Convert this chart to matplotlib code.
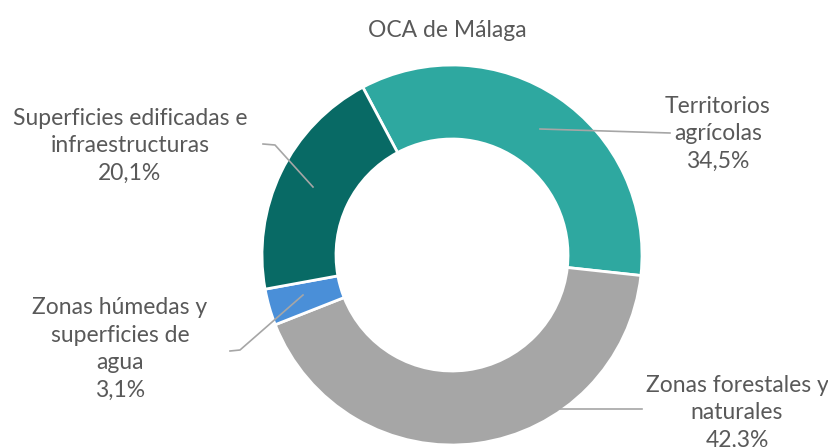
import matplotlib.pyplot as plt

# datos
categorias = ['Territorios\nagrícolas', 'Zonas forestales y\nnaturales',
              'Zonas húmedas y\nsuperficies de\nagua', 'Superficies edificadas e\ninfraestructuras']
porcentajes = [34.5, 42.3, 3.1, 20.1]
colores = ['#2EA8A0', '#A6A6A6', '#4A8FD8', '#086A65']

# posiciones de etiquetas y líneas guía (px, eje y hacia arriba)
pos_etiquetas = [(718, 313), (737, 34), (120, 98), (130, 301)]
lineas_guia = [
    [(540, 318), (670, 314)],
    [(560, 38), (642, 38)],
    [(303, 152), (240, 97), (230, 96)],
    [(313, 260), (275, 302), (263, 303)],
]

W, H = 829, 447
fig = plt.figure(figsize=(W / 100, H / 100), dpi=100)
ax = fig.add_axes([0, 0, 1, 1])

ax.pie(porcentajes, colors=colores, startangle=118, counterclock=False,
       center=(452, 192), radius=190,
       wedgeprops=dict(width=74, edgecolor='white', linewidth=2))
ax.set_xlim(0, W)
ax.set_ylim(0, H)
ax.set_aspect('equal')
ax.axis('off')

txt_color = '#595959'
for linea in lineas_guia:
    xs, ys = zip(*linea)
    ax.plot(xs, ys, color='#A6A6A6', linewidth=1.2)

for cat, val, (x, y) in zip(categorias, porcentajes, pos_etiquetas):
    etiqueta = f"{cat}\n{val:.1f}%".replace('.', ',')
    ax.text(x, y, etiqueta, ha='center', va='center', multialignment='center',
            fontsize=16.5, color=txt_color, family='Lato', linespacing=1.38)

ax.text(447, H - 30, 'OCA de Málaga', ha='center', va='center',
        fontsize=16.5, color=txt_color, family='Lato')

plt.savefig('out.png', dpi=100)
